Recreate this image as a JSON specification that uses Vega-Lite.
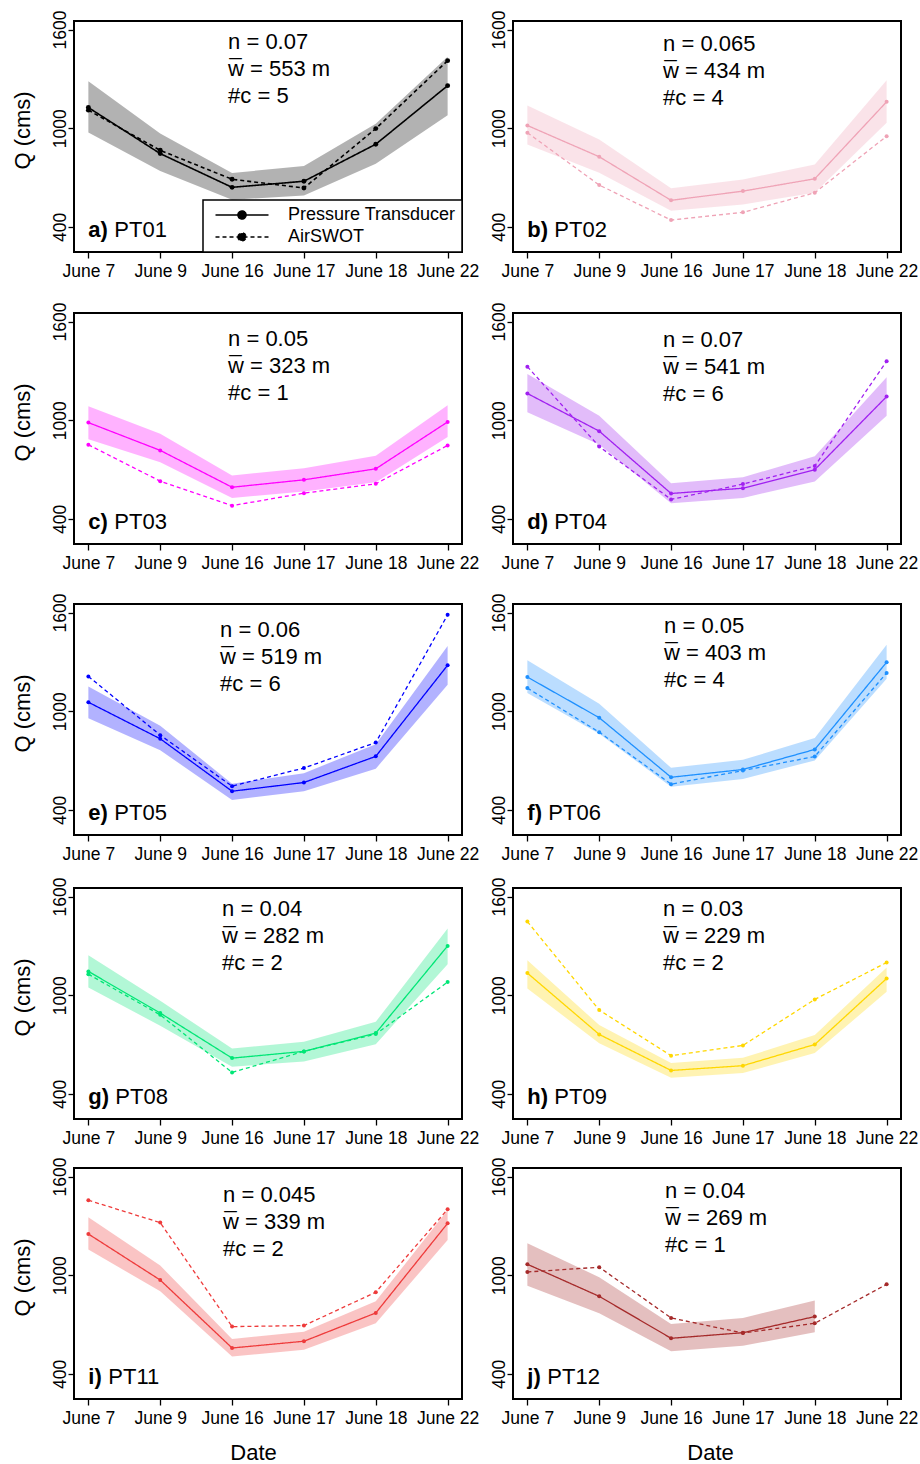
{
"$schema": "https://vega.github.io/schema/vega-lite/v6.json",
"padding": {"left": 10, "top": 9, "right": 0, "bottom": 0},
"datasets": {
"flow": [
{"panel":"PT01","date":"June 7","series":"Pressure Transducer","q":1126},{"panel":"PT01","date":"June 9","series":"Pressure Transducer","q":846},{"panel":"PT01","date":"June 16","series":"Pressure Transducer","q":641},{"panel":"PT01","date":"June 17","series":"Pressure Transducer","q":678},{"panel":"PT01","date":"June 18","series":"Pressure Transducer","q":903},{"panel":"PT01","date":"June 22","series":"Pressure Transducer","q":1259},
{"panel":"PT01","date":"June 7","series":"AirSWOT","q":1110},{"panel":"PT01","date":"June 9","series":"AirSWOT","q":866},{"panel":"PT01","date":"June 16","series":"AirSWOT","q":690},{"panel":"PT01","date":"June 17","series":"AirSWOT","q":637},{"panel":"PT01","date":"June 18","series":"AirSWOT","q":998},{"panel":"PT01","date":"June 22","series":"AirSWOT","q":1411},
{"panel":"PT02","date":"June 7","series":"Pressure Transducer","q":1017},{"panel":"PT02","date":"June 9","series":"Pressure Transducer","q":827},{"panel":"PT02","date":"June 16","series":"Pressure Transducer","q":562},{"panel":"PT02","date":"June 17","series":"Pressure Transducer","q":618},{"panel":"PT02","date":"June 18","series":"Pressure Transducer","q":693},{"panel":"PT02","date":"June 22","series":"Pressure Transducer","q":1161},
{"panel":"PT02","date":"June 7","series":"AirSWOT","q":973},{"panel":"PT02","date":"June 9","series":"AirSWOT","q":655},{"panel":"PT02","date":"June 16","series":"AirSWOT","q":442},{"panel":"PT02","date":"June 17","series":"AirSWOT","q":489},{"panel":"PT02","date":"June 18","series":"AirSWOT","q":608},{"panel":"PT02","date":"June 22","series":"AirSWOT","q":952},
{"panel":"PT03","date":"June 7","series":"Pressure Transducer","q":986},{"panel":"PT03","date":"June 9","series":"Pressure Transducer","q":817},{"panel":"PT03","date":"June 16","series":"Pressure Transducer","q":593},{"panel":"PT03","date":"June 17","series":"Pressure Transducer","q":638},{"panel":"PT03","date":"June 18","series":"Pressure Transducer","q":705},{"panel":"PT03","date":"June 22","series":"Pressure Transducer","q":990},
{"panel":"PT03","date":"June 7","series":"AirSWOT","q":851},{"panel":"PT03","date":"June 9","series":"AirSWOT","q":630},{"panel":"PT03","date":"June 16","series":"AirSWOT","q":481},{"panel":"PT03","date":"June 17","series":"AirSWOT","q":557},{"panel":"PT03","date":"June 18","series":"AirSWOT","q":614},{"panel":"PT03","date":"June 22","series":"AirSWOT","q":847},
{"panel":"PT04","date":"June 7","series":"Pressure Transducer","q":1163},{"panel":"PT04","date":"June 9","series":"Pressure Transducer","q":934},{"panel":"PT04","date":"June 16","series":"Pressure Transducer","q":555},{"panel":"PT04","date":"June 17","series":"Pressure Transducer","q":587},{"panel":"PT04","date":"June 18","series":"Pressure Transducer","q":700},{"panel":"PT04","date":"June 22","series":"Pressure Transducer","q":1144},
{"panel":"PT04","date":"June 7","series":"AirSWOT","q":1326},{"panel":"PT04","date":"June 9","series":"AirSWOT","q":840},{"panel":"PT04","date":"June 16","series":"AirSWOT","q":519},{"panel":"PT04","date":"June 17","series":"AirSWOT","q":612},{"panel":"PT04","date":"June 18","series":"AirSWOT","q":722},{"panel":"PT04","date":"June 22","series":"AirSWOT","q":1359},
{"panel":"PT05","date":"June 7","series":"Pressure Transducer","q":1055},{"panel":"PT05","date":"June 9","series":"Pressure Transducer","q":833},{"panel":"PT05","date":"June 16","series":"Pressure Transducer","q":514},{"panel":"PT05","date":"June 17","series":"Pressure Transducer","q":567},{"panel":"PT05","date":"June 18","series":"Pressure Transducer","q":726},{"panel":"PT05","date":"June 22","series":"Pressure Transducer","q":1280},
{"panel":"PT05","date":"June 7","series":"AirSWOT","q":1212},{"panel":"PT05","date":"June 9","series":"AirSWOT","q":855},{"panel":"PT05","date":"June 16","series":"AirSWOT","q":545},{"panel":"PT05","date":"June 17","series":"AirSWOT","q":655},{"panel":"PT05","date":"June 18","series":"AirSWOT","q":810},{"panel":"PT05","date":"June 22","series":"AirSWOT","q":1586},
{"panel":"PT06","date":"June 7","series":"Pressure Transducer","q":1208},{"panel":"PT06","date":"June 9","series":"Pressure Transducer","q":961},{"panel":"PT06","date":"June 16","series":"Pressure Transducer","q":599},{"panel":"PT06","date":"June 17","series":"Pressure Transducer","q":646},{"panel":"PT06","date":"June 18","series":"Pressure Transducer","q":768},{"panel":"PT06","date":"June 22","series":"Pressure Transducer","q":1298},
{"panel":"PT06","date":"June 7","series":"AirSWOT","q":1141},{"panel":"PT06","date":"June 9","series":"AirSWOT","q":873},{"panel":"PT06","date":"June 16","series":"AirSWOT","q":557},{"panel":"PT06","date":"June 17","series":"AirSWOT","q":640},{"panel":"PT06","date":"June 18","series":"AirSWOT","q":725},{"panel":"PT06","date":"June 22","series":"AirSWOT","q":1233},
{"panel":"PT08","date":"June 7","series":"Pressure Transducer","q":1145},{"panel":"PT08","date":"June 9","series":"Pressure Transducer","q":892},{"panel":"PT08","date":"June 16","series":"Pressure Transducer","q":618},{"panel":"PT08","date":"June 17","series":"Pressure Transducer","q":659},{"panel":"PT08","date":"June 18","series":"Pressure Transducer","q":770},{"panel":"PT08","date":"June 22","series":"Pressure Transducer","q":1300},
{"panel":"PT08","date":"June 7","series":"AirSWOT","q":1128},{"panel":"PT08","date":"June 9","series":"AirSWOT","q":881},{"panel":"PT08","date":"June 16","series":"AirSWOT","q":531},{"panel":"PT08","date":"June 17","series":"AirSWOT","q":659},{"panel":"PT08","date":"June 18","series":"AirSWOT","q":764},{"panel":"PT08","date":"June 22","series":"AirSWOT","q":1080},
{"panel":"PT09","date":"June 7","series":"Pressure Transducer","q":1135},{"panel":"PT09","date":"June 9","series":"Pressure Transducer","q":762},{"panel":"PT09","date":"June 16","series":"Pressure Transducer","q":543},{"panel":"PT09","date":"June 17","series":"Pressure Transducer","q":572},{"panel":"PT09","date":"June 18","series":"Pressure Transducer","q":701},{"panel":"PT09","date":"June 22","series":"Pressure Transducer","q":1102},
{"panel":"PT09","date":"June 7","series":"AirSWOT","q":1448},{"panel":"PT09","date":"June 9","series":"AirSWOT","q":910},{"panel":"PT09","date":"June 16","series":"AirSWOT","q":633},{"panel":"PT09","date":"June 17","series":"AirSWOT","q":695},{"panel":"PT09","date":"June 18","series":"AirSWOT","q":975},{"panel":"PT09","date":"June 22","series":"AirSWOT","q":1199},
{"panel":"PT11","date":"June 7","series":"Pressure Transducer","q":1251},{"panel":"PT11","date":"June 9","series":"Pressure Transducer","q":971},{"panel":"PT11","date":"June 16","series":"Pressure Transducer","q":558},{"panel":"PT11","date":"June 17","series":"Pressure Transducer","q":599},{"panel":"PT11","date":"June 18","series":"Pressure Transducer","q":771},{"panel":"PT11","date":"June 22","series":"Pressure Transducer","q":1316},
{"panel":"PT11","date":"June 7","series":"AirSWOT","q":1456},{"panel":"PT11","date":"June 9","series":"AirSWOT","q":1320},{"panel":"PT11","date":"June 16","series":"AirSWOT","q":688},{"panel":"PT11","date":"June 17","series":"AirSWOT","q":694},{"panel":"PT11","date":"June 18","series":"AirSWOT","q":897},{"panel":"PT11","date":"June 22","series":"AirSWOT","q":1401},
{"panel":"PT12","date":"June 7","series":"Pressure Transducer","q":1067},{"panel":"PT12","date":"June 9","series":"Pressure Transducer","q":872},{"panel":"PT12","date":"June 16","series":"Pressure Transducer","q":617},{"panel":"PT12","date":"June 17","series":"Pressure Transducer","q":651},{"panel":"PT12","date":"June 18","series":"Pressure Transducer","q":749},
{"panel":"PT12","date":"June 7","series":"AirSWOT","q":1020},{"panel":"PT12","date":"June 9","series":"AirSWOT","q":1049},{"panel":"PT12","date":"June 16","series":"AirSWOT","q":741},{"panel":"PT12","date":"June 17","series":"AirSWOT","q":649},{"panel":"PT12","date":"June 18","series":"AirSWOT","q":708},{"panel":"PT12","date":"June 22","series":"AirSWOT","q":945}
],
"band": [
{"panel":"PT01","date":"June 7","lo":974,"hi":1286},{"panel":"PT01","date":"June 9","lo":741,"hi":968},{"panel":"PT01","date":"June 16","lo":566,"hi":728},{"panel":"PT01","date":"June 17","lo":591,"hi":771},{"panel":"PT01","date":"June 18","lo":785,"hi":1028},{"panel":"PT01","date":"June 22","lo":1079,"hi":1434},
{"panel":"PT02","date":"June 7","lo":902,"hi":1139},{"panel":"PT02","date":"June 9","lo":730,"hi":932},{"panel":"PT02","date":"June 16","lo":499,"hi":635},{"panel":"PT02","date":"June 17","lo":537,"hi":689},{"panel":"PT02","date":"June 18","lo":608,"hi":780},{"panel":"PT02","date":"June 22","lo":1033,"hi":1292},
{"panel":"PT03","date":"June 7","lo":884,"hi":1085},{"panel":"PT03","date":"June 9","lo":745,"hi":918},{"panel":"PT03","date":"June 16","lo":528,"hi":664},{"panel":"PT03","date":"June 17","lo":567,"hi":709},{"panel":"PT03","date":"June 18","lo":624,"hi":784},{"panel":"PT03","date":"June 22","lo":898,"hi":1091},
{"panel":"PT04","date":"June 7","lo":1049,"hi":1282},{"panel":"PT04","date":"June 9","lo":853,"hi":1028},{"panel":"PT04","date":"June 16","lo":496,"hi":617},{"panel":"PT04","date":"June 17","lo":528,"hi":654},{"panel":"PT04","date":"June 18","lo":628,"hi":781},{"panel":"PT04","date":"June 22","lo":1028,"hi":1262},
{"panel":"PT05","date":"June 7","lo":957,"hi":1151},{"panel":"PT05","date":"June 9","lo":763,"hi":912},{"panel":"PT05","date":"June 16","lo":461,"hi":559},{"panel":"PT05","date":"June 17","lo":514,"hi":624},{"panel":"PT05","date":"June 18","lo":651,"hi":800},{"panel":"PT05","date":"June 22","lo":1161,"hi":1396},
{"panel":"PT06","date":"June 7","lo":1111,"hi":1310},{"panel":"PT06","date":"June 9","lo":863,"hi":1046},{"panel":"PT06","date":"June 16","lo":542,"hi":656},{"panel":"PT06","date":"June 17","lo":589,"hi":705},{"panel":"PT06","date":"June 18","lo":701,"hi":837},{"panel":"PT06","date":"June 22","lo":1198,"hi":1405},
{"panel":"PT08","date":"June 7","lo":1047,"hi":1244},{"panel":"PT08","date":"June 9","lo":815,"hi":966},{"panel":"PT08","date":"June 16","lo":566,"hi":677},{"panel":"PT08","date":"June 17","lo":598,"hi":717},{"panel":"PT08","date":"June 18","lo":703,"hi":839},{"panel":"PT08","date":"June 22","lo":1189,"hi":1406},
{"panel":"PT09","date":"June 7","lo":1041,"hi":1213},{"panel":"PT09","date":"June 9","lo":709,"hi":819},{"panel":"PT09","date":"June 16","lo":499,"hi":588},{"panel":"PT09","date":"June 17","lo":527,"hi":620},{"panel":"PT09","date":"June 18","lo":649,"hi":758},{"panel":"PT09","date":"June 22","lo":1021,"hi":1169},
{"panel":"PT11","date":"June 7","lo":1156,"hi":1353},{"panel":"PT11","date":"June 9","lo":903,"hi":1059},{"panel":"PT11","date":"June 16","lo":506,"hi":613},{"panel":"PT11","date":"June 17","lo":548,"hi":657},{"panel":"PT11","date":"June 18","lo":708,"hi":842},{"panel":"PT11","date":"June 22","lo":1215,"hi":1397},
{"panel":"PT12","date":"June 7","lo":937,"hi":1195},{"panel":"PT12","date":"June 9","lo":769,"hi":988},{"panel":"PT12","date":"June 16","lo":538,"hi":704},{"panel":"PT12","date":"June 17","lo":572,"hi":741},{"panel":"PT12","date":"June 18","lo":653,"hi":846}
],
"labels": [
{"panel":"PT01","tag":"a)","site":"PT01","note":"n = 0.07\nw\u0305 = 553 m\n#c = 5"},
{"panel":"PT02","tag":"b)","site":"PT02","note":"n = 0.065\nw\u0305 = 434 m\n#c = 4"},
{"panel":"PT03","tag":"c)","site":"PT03","note":"n = 0.05\nw\u0305 = 323 m\n#c = 1"},
{"panel":"PT04","tag":"d)","site":"PT04","note":"n = 0.07\nw\u0305 = 541 m\n#c = 6"},
{"panel":"PT05","tag":"e)","site":"PT05","note":"n = 0.06\nw\u0305 = 519 m\n#c = 6"},
{"panel":"PT06","tag":"f)","site":"PT06","note":"n = 0.05\nw\u0305 = 403 m\n#c = 4"},
{"panel":"PT08","tag":"g)","site":"PT08","note":"n = 0.04\nw\u0305 = 282 m\n#c = 2"},
{"panel":"PT09","tag":"h)","site":"PT09","note":"n = 0.03\nw\u0305 = 229 m\n#c = 2"},
{"panel":"PT11","tag":"i)","site":"PT11","note":"n = 0.045\nw\u0305 = 339 m\n#c = 2"},
{"panel":"PT12","tag":"j)","site":"PT12","note":"n = 0.04\nw\u0305 = 269 m\n#c = 1"}
]
},
"resolve": {"scale": {"strokeDash": "independent"}, "legend": {"strokeDash": "independent"}},
"spacing": 20,
"vconcat": [
{"hconcat": [
{"width": 388, "height": 231, "layer": [
{"data": {"name": "band"}, "transform": [{"filter": "datum.panel === 'PT01'"}], "mark": {"type": "area", "color": "#000000", "opacity": 0.3},
 "encoding": {"x": {"field": "date", "type": "ordinal", "scale": {"type": "point", "domain": ["June 7","June 9","June 16","June 17","June 18","June 22"], "padding": 0.2}, "axis": {"title": null}},
  "y": {"field": "lo", "type": "quantitative", "scale": {"domain": [248, 1652], "nice": false, "zero": false}, "axis": {"title": "Q (cms)", "values": [400, 1000, 1600], "format": "d"}}, "y2": {"field": "hi"}}},
{"data": {"name": "flow"}, "transform": [{"filter": "datum.panel === 'PT01'"}], "mark": {"type": "line", "color": "#000000", "strokeWidth": 1.6},
 "encoding": {"x": {"field": "date", "type": "ordinal"}, "y": {"field": "q", "type": "quantitative"},
  "strokeDash": {"field": "series", "type": "nominal", "scale": {"domain": ["Pressure Transducer", "AirSWOT"], "range": [[1, 0], [4, 3]]},
   "legend": {"title": null, "orient": "bottom-right", "offset": 0, "strokeColor": "black", "fillColor": "white", "padding": 6, "labelFont": "Liberation Sans", "labelFontSize": 18, "labelColor": "black", "labelLimit": 400, "symbolType": "M-5.3,0H5.3M-0.8,0A0.8,0.8,0,1,1,0.8,0A0.8,0.8,0,1,1,-0.8,0Z", "symbolSize": 100, "symbolStrokeColor": "black", "symbolFillColor": "black", "symbolStrokeWidth": 1.6, "symbolOffset": 24, "labelOffset": 37, "rowPadding": 4}}}},
{"data": {"name": "flow"}, "transform": [{"filter": "datum.panel === 'PT01'"}], "mark": {"type": "point", "filled": true, "opacity": 1, "color": "#000000", "size": 24},
 "encoding": {"x": {"field": "date", "type": "ordinal"}, "y": {"field": "q", "type": "quantitative"}}},
{"data": {"name": "labels"}, "transform": [{"filter": "datum.panel === 'PT01'"}], "mark": {"type": "text", "align": "left", "baseline": "top", "lineBreak": "\n", "lineHeight": 27, "dx": -4},
 "encoding": {"x": {"datum": "June 16", "type": "ordinal"}, "y": {"datum": 1584, "type": "quantitative"}, "text": {"field": "note"}}},
{"data": {"name": "labels"}, "transform": [{"filter": "datum.panel === 'PT01'"}], "mark": {"type": "text", "align": "left", "baseline": "alphabetic", "fontWeight": "bold"},
 "encoding": {"x": {"datum": "June 7", "type": "ordinal"}, "y": {"datum": 342, "type": "quantitative"}, "text": {"field": "tag"}}},
{"data": {"name": "labels"}, "transform": [{"filter": "datum.panel === 'PT01'"}], "mark": {"type": "text", "align": "left", "baseline": "alphabetic", "dx": 26},
 "encoding": {"x": {"datum": "June 7", "type": "ordinal"}, "y": {"datum": 342, "type": "quantitative"}, "text": {"field": "site"}}}
]},
{"width": 388, "height": 231, "layer": [
{"data": {"name": "band"}, "transform": [{"filter": "datum.panel === 'PT02'"}], "mark": {"type": "area", "color": "#EFA3B6", "opacity": 0.3},
 "encoding": {"x": {"field": "date", "type": "ordinal", "scale": {"type": "point", "domain": ["June 7","June 9","June 16","June 17","June 18","June 22"], "padding": 0.2}, "axis": {"title": null}},
  "y": {"field": "lo", "type": "quantitative", "scale": {"domain": [248, 1652], "nice": false, "zero": false}, "axis": {"title": null, "values": [400, 1000, 1600], "format": "d"}}, "y2": {"field": "hi"}}},
{"data": {"name": "flow"}, "transform": [{"filter": "datum.panel === 'PT02'"}], "mark": {"type": "line", "color": "#EFA3B6", "strokeWidth": 1.3},
 "encoding": {"x": {"field": "date", "type": "ordinal"}, "y": {"field": "q", "type": "quantitative"},
  "strokeDash": {"field": "series", "type": "nominal", "scale": {"domain": ["Pressure Transducer", "AirSWOT"], "range": [[1, 0], [4, 3]]}, "legend": null}}},
{"data": {"name": "flow"}, "transform": [{"filter": "datum.panel === 'PT02'"}], "mark": {"type": "point", "filled": true, "opacity": 1, "color": "#EFA3B6", "size": 16},
 "encoding": {"x": {"field": "date", "type": "ordinal"}, "y": {"field": "q", "type": "quantitative"}}},
{"data": {"name": "labels"}, "transform": [{"filter": "datum.panel === 'PT02'"}], "mark": {"type": "text", "align": "left", "baseline": "top", "lineBreak": "\n", "lineHeight": 27, "dx": -8},
 "encoding": {"x": {"datum": "June 16", "type": "ordinal"}, "y": {"datum": 1575, "type": "quantitative"}, "text": {"field": "note"}}},
{"data": {"name": "labels"}, "transform": [{"filter": "datum.panel === 'PT02'"}], "mark": {"type": "text", "align": "left", "baseline": "alphabetic", "fontWeight": "bold"},
 "encoding": {"x": {"datum": "June 7", "type": "ordinal"}, "y": {"datum": 342, "type": "quantitative"}, "text": {"field": "tag"}}},
{"data": {"name": "labels"}, "transform": [{"filter": "datum.panel === 'PT02'"}], "mark": {"type": "text", "align": "left", "baseline": "alphabetic", "dx": 27},
 "encoding": {"x": {"datum": "June 7", "type": "ordinal"}, "y": {"datum": 342, "type": "quantitative"}, "text": {"field": "site"}}}
]}
], "spacing": 9, "resolve": {"scale": {"strokeDash": "independent"}, "legend": {"strokeDash": "independent"}}},
{"vconcat": [
{"hconcat": [
{"width": 388, "height": 231, "layer": [
{"data": {"name": "band"}, "transform": [{"filter": "datum.panel === 'PT03'"}], "mark": {"type": "area", "color": "#FF00FF", "opacity": 0.3},
 "encoding": {"x": {"field": "date", "type": "ordinal", "scale": {"type": "point", "domain": ["June 7","June 9","June 16","June 17","June 18","June 22"], "padding": 0.2}, "axis": {"title": null}},
  "y": {"field": "lo", "type": "quantitative", "scale": {"domain": [248, 1652], "nice": false, "zero": false}, "axis": {"title": "Q (cms)", "values": [400, 1000, 1600], "format": "d"}}, "y2": {"field": "hi"}}},
{"data": {"name": "flow"}, "transform": [{"filter": "datum.panel === 'PT03'"}], "mark": {"type": "line", "color": "#FF00FF", "strokeWidth": 1.3},
 "encoding": {"x": {"field": "date", "type": "ordinal"}, "y": {"field": "q", "type": "quantitative"},
  "strokeDash": {"field": "series", "type": "nominal", "scale": {"domain": ["Pressure Transducer", "AirSWOT"], "range": [[1, 0], [4, 3]]}, "legend": null}}},
{"data": {"name": "flow"}, "transform": [{"filter": "datum.panel === 'PT03'"}], "mark": {"type": "point", "filled": true, "opacity": 1, "color": "#FF00FF", "size": 16},
 "encoding": {"x": {"field": "date", "type": "ordinal"}, "y": {"field": "q", "type": "quantitative"}}},
{"data": {"name": "labels"}, "transform": [{"filter": "datum.panel === 'PT03'"}], "mark": {"type": "text", "align": "left", "baseline": "top", "lineBreak": "\n", "lineHeight": 27, "dx": -4},
 "encoding": {"x": {"datum": "June 16", "type": "ordinal"}, "y": {"datum": 1555, "type": "quantitative"}, "text": {"field": "note"}}},
{"data": {"name": "labels"}, "transform": [{"filter": "datum.panel === 'PT03'"}], "mark": {"type": "text", "align": "left", "baseline": "alphabetic", "fontWeight": "bold"},
 "encoding": {"x": {"datum": "June 7", "type": "ordinal"}, "y": {"datum": 342, "type": "quantitative"}, "text": {"field": "tag"}}},
{"data": {"name": "labels"}, "transform": [{"filter": "datum.panel === 'PT03'"}], "mark": {"type": "text", "align": "left", "baseline": "alphabetic", "dx": 26},
 "encoding": {"x": {"datum": "June 7", "type": "ordinal"}, "y": {"datum": 342, "type": "quantitative"}, "text": {"field": "site"}}}
]},
{"width": 388, "height": 231, "layer": [
{"data": {"name": "band"}, "transform": [{"filter": "datum.panel === 'PT04'"}], "mark": {"type": "area", "color": "#A020F0", "opacity": 0.3},
 "encoding": {"x": {"field": "date", "type": "ordinal", "scale": {"type": "point", "domain": ["June 7","June 9","June 16","June 17","June 18","June 22"], "padding": 0.2}, "axis": {"title": null}},
  "y": {"field": "lo", "type": "quantitative", "scale": {"domain": [248, 1652], "nice": false, "zero": false}, "axis": {"title": null, "values": [400, 1000, 1600], "format": "d"}}, "y2": {"field": "hi"}}},
{"data": {"name": "flow"}, "transform": [{"filter": "datum.panel === 'PT04'"}], "mark": {"type": "line", "color": "#A020F0", "strokeWidth": 1.3},
 "encoding": {"x": {"field": "date", "type": "ordinal"}, "y": {"field": "q", "type": "quantitative"},
  "strokeDash": {"field": "series", "type": "nominal", "scale": {"domain": ["Pressure Transducer", "AirSWOT"], "range": [[1, 0], [4, 3]]}, "legend": null}}},
{"data": {"name": "flow"}, "transform": [{"filter": "datum.panel === 'PT04'"}], "mark": {"type": "point", "filled": true, "opacity": 1, "color": "#A020F0", "size": 16},
 "encoding": {"x": {"field": "date", "type": "ordinal"}, "y": {"field": "q", "type": "quantitative"}}},
{"data": {"name": "labels"}, "transform": [{"filter": "datum.panel === 'PT04'"}], "mark": {"type": "text", "align": "left", "baseline": "top", "lineBreak": "\n", "lineHeight": 27, "dx": -8},
 "encoding": {"x": {"datum": "June 16", "type": "ordinal"}, "y": {"datum": 1550, "type": "quantitative"}, "text": {"field": "note"}}},
{"data": {"name": "labels"}, "transform": [{"filter": "datum.panel === 'PT04'"}], "mark": {"type": "text", "align": "left", "baseline": "alphabetic", "fontWeight": "bold"},
 "encoding": {"x": {"datum": "June 7", "type": "ordinal"}, "y": {"datum": 342, "type": "quantitative"}, "text": {"field": "tag"}}},
{"data": {"name": "labels"}, "transform": [{"filter": "datum.panel === 'PT04'"}], "mark": {"type": "text", "align": "left", "baseline": "alphabetic", "dx": 27},
 "encoding": {"x": {"datum": "June 7", "type": "ordinal"}, "y": {"datum": 342, "type": "quantitative"}, "text": {"field": "site"}}}
]}
], "spacing": 9, "resolve": {"scale": {"strokeDash": "independent"}, "legend": {"strokeDash": "independent"}}},
{"vconcat": [
{"hconcat": [
{"width": 388, "height": 231, "layer": [
{"data": {"name": "band"}, "transform": [{"filter": "datum.panel === 'PT05'"}], "mark": {"type": "area", "color": "#0000FF", "opacity": 0.3},
 "encoding": {"x": {"field": "date", "type": "ordinal", "scale": {"type": "point", "domain": ["June 7","June 9","June 16","June 17","June 18","June 22"], "padding": 0.2}, "axis": {"title": null}},
  "y": {"field": "lo", "type": "quantitative", "scale": {"domain": [248, 1652], "nice": false, "zero": false}, "axis": {"title": "Q (cms)", "values": [400, 1000, 1600], "format": "d"}}, "y2": {"field": "hi"}}},
{"data": {"name": "flow"}, "transform": [{"filter": "datum.panel === 'PT05'"}], "mark": {"type": "line", "color": "#0000FF", "strokeWidth": 1.3},
 "encoding": {"x": {"field": "date", "type": "ordinal"}, "y": {"field": "q", "type": "quantitative"},
  "strokeDash": {"field": "series", "type": "nominal", "scale": {"domain": ["Pressure Transducer", "AirSWOT"], "range": [[1, 0], [4, 3]]}, "legend": null}}},
{"data": {"name": "flow"}, "transform": [{"filter": "datum.panel === 'PT05'"}], "mark": {"type": "point", "filled": true, "opacity": 1, "color": "#0000FF", "size": 16},
 "encoding": {"x": {"field": "date", "type": "ordinal"}, "y": {"field": "q", "type": "quantitative"}}},
{"data": {"name": "labels"}, "transform": [{"filter": "datum.panel === 'PT05'"}], "mark": {"type": "text", "align": "left", "baseline": "top", "lineBreak": "\n", "lineHeight": 27, "dx": -12},
 "encoding": {"x": {"datum": "June 16", "type": "ordinal"}, "y": {"datum": 1554, "type": "quantitative"}, "text": {"field": "note"}}},
{"data": {"name": "labels"}, "transform": [{"filter": "datum.panel === 'PT05'"}], "mark": {"type": "text", "align": "left", "baseline": "alphabetic", "fontWeight": "bold"},
 "encoding": {"x": {"datum": "June 7", "type": "ordinal"}, "y": {"datum": 342, "type": "quantitative"}, "text": {"field": "tag"}}},
{"data": {"name": "labels"}, "transform": [{"filter": "datum.panel === 'PT05'"}], "mark": {"type": "text", "align": "left", "baseline": "alphabetic", "dx": 26},
 "encoding": {"x": {"datum": "June 7", "type": "ordinal"}, "y": {"datum": 342, "type": "quantitative"}, "text": {"field": "site"}}}
]},
{"width": 388, "height": 231, "layer": [
{"data": {"name": "band"}, "transform": [{"filter": "datum.panel === 'PT06'"}], "mark": {"type": "area", "color": "#1E90FF", "opacity": 0.3},
 "encoding": {"x": {"field": "date", "type": "ordinal", "scale": {"type": "point", "domain": ["June 7","June 9","June 16","June 17","June 18","June 22"], "padding": 0.2}, "axis": {"title": null}},
  "y": {"field": "lo", "type": "quantitative", "scale": {"domain": [248, 1652], "nice": false, "zero": false}, "axis": {"title": null, "values": [400, 1000, 1600], "format": "d"}}, "y2": {"field": "hi"}}},
{"data": {"name": "flow"}, "transform": [{"filter": "datum.panel === 'PT06'"}], "mark": {"type": "line", "color": "#1E90FF", "strokeWidth": 1.3},
 "encoding": {"x": {"field": "date", "type": "ordinal"}, "y": {"field": "q", "type": "quantitative"},
  "strokeDash": {"field": "series", "type": "nominal", "scale": {"domain": ["Pressure Transducer", "AirSWOT"], "range": [[1, 0], [4, 3]]}, "legend": null}}},
{"data": {"name": "flow"}, "transform": [{"filter": "datum.panel === 'PT06'"}], "mark": {"type": "point", "filled": true, "opacity": 1, "color": "#1E90FF", "size": 16},
 "encoding": {"x": {"field": "date", "type": "ordinal"}, "y": {"field": "q", "type": "quantitative"}}},
{"data": {"name": "labels"}, "transform": [{"filter": "datum.panel === 'PT06'"}], "mark": {"type": "text", "align": "left", "baseline": "top", "lineBreak": "\n", "lineHeight": 27, "dx": -7},
 "encoding": {"x": {"datum": "June 16", "type": "ordinal"}, "y": {"datum": 1580, "type": "quantitative"}, "text": {"field": "note"}}},
{"data": {"name": "labels"}, "transform": [{"filter": "datum.panel === 'PT06'"}], "mark": {"type": "text", "align": "left", "baseline": "alphabetic", "fontWeight": "bold"},
 "encoding": {"x": {"datum": "June 7", "type": "ordinal"}, "y": {"datum": 342, "type": "quantitative"}, "text": {"field": "tag"}}},
{"data": {"name": "labels"}, "transform": [{"filter": "datum.panel === 'PT06'"}], "mark": {"type": "text", "align": "left", "baseline": "alphabetic", "dx": 21},
 "encoding": {"x": {"datum": "June 7", "type": "ordinal"}, "y": {"datum": 342, "type": "quantitative"}, "text": {"field": "site"}}}
]}
], "spacing": 9, "resolve": {"scale": {"strokeDash": "independent"}, "legend": {"strokeDash": "independent"}}},
{"vconcat": [
{"hconcat": [
{"width": 388, "height": 231, "layer": [
{"data": {"name": "band"}, "transform": [{"filter": "datum.panel === 'PT08'"}], "mark": {"type": "area", "color": "#00E676", "opacity": 0.3},
 "encoding": {"x": {"field": "date", "type": "ordinal", "scale": {"type": "point", "domain": ["June 7","June 9","June 16","June 17","June 18","June 22"], "padding": 0.2}, "axis": {"title": null}},
  "y": {"field": "lo", "type": "quantitative", "scale": {"domain": [248, 1652], "nice": false, "zero": false}, "axis": {"title": "Q (cms)", "values": [400, 1000, 1600], "format": "d"}}, "y2": {"field": "hi"}}},
{"data": {"name": "flow"}, "transform": [{"filter": "datum.panel === 'PT08'"}], "mark": {"type": "line", "color": "#00E676", "strokeWidth": 1.3},
 "encoding": {"x": {"field": "date", "type": "ordinal"}, "y": {"field": "q", "type": "quantitative"},
  "strokeDash": {"field": "series", "type": "nominal", "scale": {"domain": ["Pressure Transducer", "AirSWOT"], "range": [[1, 0], [4, 3]]}, "legend": null}}},
{"data": {"name": "flow"}, "transform": [{"filter": "datum.panel === 'PT08'"}], "mark": {"type": "point", "filled": true, "opacity": 1, "color": "#00E676", "size": 16},
 "encoding": {"x": {"field": "date", "type": "ordinal"}, "y": {"field": "q", "type": "quantitative"}}},
{"data": {"name": "labels"}, "transform": [{"filter": "datum.panel === 'PT08'"}], "mark": {"type": "text", "align": "left", "baseline": "top", "lineBreak": "\n", "lineHeight": 27, "dx": -10},
 "encoding": {"x": {"datum": "June 16", "type": "ordinal"}, "y": {"datum": 1583, "type": "quantitative"}, "text": {"field": "note"}}},
{"data": {"name": "labels"}, "transform": [{"filter": "datum.panel === 'PT08'"}], "mark": {"type": "text", "align": "left", "baseline": "alphabetic", "fontWeight": "bold"},
 "encoding": {"x": {"datum": "June 7", "type": "ordinal"}, "y": {"datum": 342, "type": "quantitative"}, "text": {"field": "tag"}}},
{"data": {"name": "labels"}, "transform": [{"filter": "datum.panel === 'PT08'"}], "mark": {"type": "text", "align": "left", "baseline": "alphabetic", "dx": 27},
 "encoding": {"x": {"datum": "June 7", "type": "ordinal"}, "y": {"datum": 342, "type": "quantitative"}, "text": {"field": "site"}}}
]},
{"width": 388, "height": 231, "layer": [
{"data": {"name": "band"}, "transform": [{"filter": "datum.panel === 'PT09'"}], "mark": {"type": "area", "color": "#FFD700", "opacity": 0.3},
 "encoding": {"x": {"field": "date", "type": "ordinal", "scale": {"type": "point", "domain": ["June 7","June 9","June 16","June 17","June 18","June 22"], "padding": 0.2}, "axis": {"title": null}},
  "y": {"field": "lo", "type": "quantitative", "scale": {"domain": [248, 1652], "nice": false, "zero": false}, "axis": {"title": null, "values": [400, 1000, 1600], "format": "d"}}, "y2": {"field": "hi"}}},
{"data": {"name": "flow"}, "transform": [{"filter": "datum.panel === 'PT09'"}], "mark": {"type": "line", "color": "#FFD700", "strokeWidth": 1.3},
 "encoding": {"x": {"field": "date", "type": "ordinal"}, "y": {"field": "q", "type": "quantitative"},
  "strokeDash": {"field": "series", "type": "nominal", "scale": {"domain": ["Pressure Transducer", "AirSWOT"], "range": [[1, 0], [4, 3]]}, "legend": null}}},
{"data": {"name": "flow"}, "transform": [{"filter": "datum.panel === 'PT09'"}], "mark": {"type": "point", "filled": true, "opacity": 1, "color": "#FFD700", "size": 16},
 "encoding": {"x": {"field": "date", "type": "ordinal"}, "y": {"field": "q", "type": "quantitative"}}},
{"data": {"name": "labels"}, "transform": [{"filter": "datum.panel === 'PT09'"}], "mark": {"type": "text", "align": "left", "baseline": "top", "lineBreak": "\n", "lineHeight": 27, "dx": -8},
 "encoding": {"x": {"datum": "June 16", "type": "ordinal"}, "y": {"datum": 1583, "type": "quantitative"}, "text": {"field": "note"}}},
{"data": {"name": "labels"}, "transform": [{"filter": "datum.panel === 'PT09'"}], "mark": {"type": "text", "align": "left", "baseline": "alphabetic", "fontWeight": "bold"},
 "encoding": {"x": {"datum": "June 7", "type": "ordinal"}, "y": {"datum": 342, "type": "quantitative"}, "text": {"field": "tag"}}},
{"data": {"name": "labels"}, "transform": [{"filter": "datum.panel === 'PT09'"}], "mark": {"type": "text", "align": "left", "baseline": "alphabetic", "dx": 27},
 "encoding": {"x": {"datum": "June 7", "type": "ordinal"}, "y": {"datum": 342, "type": "quantitative"}, "text": {"field": "site"}}}
]}
], "spacing": 9, "resolve": {"scale": {"strokeDash": "independent"}, "legend": {"strokeDash": "independent"}}},
{"hconcat": [
{"width": 388, "height": 231, "layer": [
{"data": {"name": "band"}, "transform": [{"filter": "datum.panel === 'PT11'"}], "mark": {"type": "area", "color": "#EE3B3B", "opacity": 0.3},
 "encoding": {"x": {"field": "date", "type": "ordinal", "scale": {"type": "point", "domain": ["June 7","June 9","June 16","June 17","June 18","June 22"], "padding": 0.2}, "axis": {"title": "Date", "titleX": 179}},
  "y": {"field": "lo", "type": "quantitative", "scale": {"domain": [248, 1652], "nice": false, "zero": false}, "axis": {"title": "Q (cms)", "values": [400, 1000, 1600], "format": "d"}}, "y2": {"field": "hi"}}},
{"data": {"name": "flow"}, "transform": [{"filter": "datum.panel === 'PT11'"}], "mark": {"type": "line", "color": "#EE3B3B", "strokeWidth": 1.3},
 "encoding": {"x": {"field": "date", "type": "ordinal"}, "y": {"field": "q", "type": "quantitative"},
  "strokeDash": {"field": "series", "type": "nominal", "scale": {"domain": ["Pressure Transducer", "AirSWOT"], "range": [[1, 0], [4, 3]]}, "legend": null}}},
{"data": {"name": "flow"}, "transform": [{"filter": "datum.panel === 'PT11'"}], "mark": {"type": "point", "filled": true, "opacity": 1, "color": "#EE3B3B", "size": 16},
 "encoding": {"x": {"field": "date", "type": "ordinal"}, "y": {"field": "q", "type": "quantitative"}}},
{"data": {"name": "labels"}, "transform": [{"filter": "datum.panel === 'PT11'"}], "mark": {"type": "text", "align": "left", "baseline": "top", "lineBreak": "\n", "lineHeight": 27, "dx": -9},
 "encoding": {"x": {"datum": "June 16", "type": "ordinal"}, "y": {"datum": 1547, "type": "quantitative"}, "text": {"field": "note"}}},
{"data": {"name": "labels"}, "transform": [{"filter": "datum.panel === 'PT11'"}], "mark": {"type": "text", "align": "left", "baseline": "alphabetic", "fontWeight": "bold"},
 "encoding": {"x": {"datum": "June 7", "type": "ordinal"}, "y": {"datum": 342, "type": "quantitative"}, "text": {"field": "tag"}}},
{"data": {"name": "labels"}, "transform": [{"filter": "datum.panel === 'PT11'"}], "mark": {"type": "text", "align": "left", "baseline": "alphabetic", "dx": 20},
 "encoding": {"x": {"datum": "June 7", "type": "ordinal"}, "y": {"datum": 342, "type": "quantitative"}, "text": {"field": "site"}}}
]},
{"width": 388, "height": 231, "layer": [
{"data": {"name": "band"}, "transform": [{"filter": "datum.panel === 'PT12'"}], "mark": {"type": "area", "color": "#A52A2A", "opacity": 0.3},
 "encoding": {"x": {"field": "date", "type": "ordinal", "scale": {"type": "point", "domain": ["June 7","June 9","June 16","June 17","June 18","June 22"], "padding": 0.2}, "axis": {"title": "Date", "titleX": 197}},
  "y": {"field": "lo", "type": "quantitative", "scale": {"domain": [248, 1652], "nice": false, "zero": false}, "axis": {"title": null, "values": [400, 1000, 1600], "format": "d"}}, "y2": {"field": "hi"}}},
{"data": {"name": "flow"}, "transform": [{"filter": "datum.panel === 'PT12'"}], "mark": {"type": "line", "color": "#A52A2A", "strokeWidth": 1.3},
 "encoding": {"x": {"field": "date", "type": "ordinal"}, "y": {"field": "q", "type": "quantitative"},
  "strokeDash": {"field": "series", "type": "nominal", "scale": {"domain": ["Pressure Transducer", "AirSWOT"], "range": [[1, 0], [4, 3]]}, "legend": null}}},
{"data": {"name": "flow"}, "transform": [{"filter": "datum.panel === 'PT12'"}], "mark": {"type": "point", "filled": true, "opacity": 1, "color": "#A52A2A", "size": 16},
 "encoding": {"x": {"field": "date", "type": "ordinal"}, "y": {"field": "q", "type": "quantitative"}}},
{"data": {"name": "labels"}, "transform": [{"filter": "datum.panel === 'PT12'"}], "mark": {"type": "text", "align": "left", "baseline": "top", "lineBreak": "\n", "lineHeight": 27, "dx": -6},
 "encoding": {"x": {"datum": "June 16", "type": "ordinal"}, "y": {"datum": 1574, "type": "quantitative"}, "text": {"field": "note"}}},
{"data": {"name": "labels"}, "transform": [{"filter": "datum.panel === 'PT12'"}], "mark": {"type": "text", "align": "left", "baseline": "alphabetic", "fontWeight": "bold"},
 "encoding": {"x": {"datum": "June 7", "type": "ordinal"}, "y": {"datum": 342, "type": "quantitative"}, "text": {"field": "tag"}}},
{"data": {"name": "labels"}, "transform": [{"filter": "datum.panel === 'PT12'"}], "mark": {"type": "text", "align": "left", "baseline": "alphabetic", "dx": 20},
 "encoding": {"x": {"datum": "June 7", "type": "ordinal"}, "y": {"datum": 342, "type": "quantitative"}, "text": {"field": "site"}}}
]}
], "spacing": 9, "resolve": {"scale": {"strokeDash": "independent"}, "legend": {"strokeDash": "independent"}}}
], "spacing": 8, "resolve": {"scale": {"strokeDash": "independent"}, "legend": {"strokeDash": "independent"}}}
], "spacing": 12, "resolve": {"scale": {"strokeDash": "independent"}, "legend": {"strokeDash": "independent"}}}
], "spacing": 19, "resolve": {"scale": {"strokeDash": "independent"}, "legend": {"strokeDash": "independent"}}}
],
"config": {
 "view": {"stroke": "black", "strokeWidth": 2},
 "font": "Liberation Sans",
 "legend": {"strokeWidth": 1.5},
 "axis": {"domain": false, "grid": false, "tickColor": "black", "tickSize": 6, "tickWidth": 1.3, "labelFont": "Liberation Sans", "labelFontSize": 17.5, "labelColor": "black", "labelOverlap": false, "labelFlush": false, "labelBound": false, "titleFont": "Liberation Sans", "titleFontSize": 22, "titleFontWeight": "normal", "titleColor": "black"},
 "axisX": {"labelAngle": 0, "labelPadding": 4, "titlePadding": 16},
 "axisY": {"labelAngle": -90, "labelPadding": -1, "titlePadding": 17, "titleY": 109},
 "text": {"font": "Liberation Sans", "fontSize": 22, "color": "black"}
}
}
